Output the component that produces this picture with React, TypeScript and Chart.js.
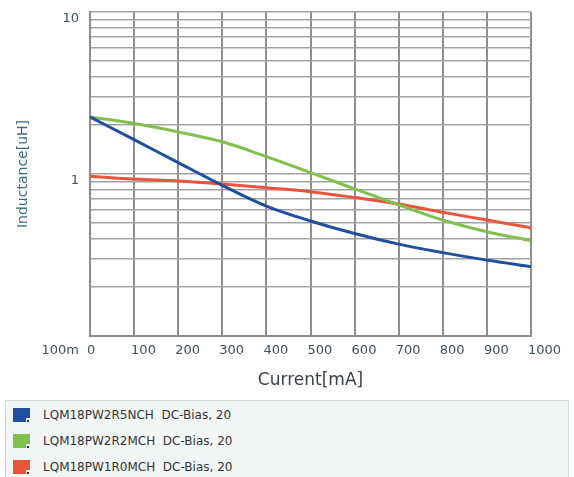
import React, { useEffect, useRef } from "react";
import { Chart, registerables } from "chart.js";

Chart.register(...registerables);

const currents = [0, 100, 200, 300, 400, 500, 600, 700, 800, 900, 1000];
const blueValues = [2.25, 1.63, 1.175, 0.851, 0.634, 0.513, 0.429, 0.369, 0.327, 0.294, 0.268];
const greenValues = [2.25, 2.05, 1.82, 1.58, 1.28, 1.02, 0.81, 0.645, 0.52, 0.44, 0.388];
const redValues = [0.97, 0.93, 0.905, 0.867, 0.823, 0.778, 0.715, 0.653, 0.58, 0.52, 0.466];

const seriesNames = [
  "LQM18PW2R5NCH  DC-Bias, 20",
  "LQM18PW2R2MCH  DC-Bias, 20",
  "LQM18PW1R0MCH  DC-Bias, 20",
];
const seriesColors = ["#1f4f9f", "#80c04c", "#e9553b"];
const seriesValues = [blueValues, greenValues, redValues];

const yTickValues = [
  0.1, 0.2, 0.3, 0.4, 0.5, 0.6, 0.7, 0.8, 0.9,
  1, 2, 3, 4, 5, 6, 7, 8, 9, 10,
];
const yTickLabels: Record<string, string | string[]> = {
  "0.1": ["", "100m"],
  "1": "1",
  "10": "10",
};

const W = 574;
const H = 398;

export default function App() {
  const ref = useRef<HTMLCanvasElement | null>(null);

  useEffect(() => {
    if (!ref.current) return;
    const chart = new Chart(ref.current, {
      type: "line",
      data: {
        datasets: seriesValues.map((vals, i) => ({
          label: seriesNames[i],
          data: currents.map((c, j) => ({ x: c, y: vals[j] })),
          borderColor: seriesColors[i],
          backgroundColor: seriesColors[i],
          borderWidth: 3,
          pointRadius: 0,
          cubicInterpolationMode: "monotone" as const,
          fill: false,
        })),
      },
      options: {
        responsive: false,
        animation: false,
        layout: { padding: { top: 12, right: 43, left: 0, bottom: 0 } },
        plugins: {
          legend: { display: false },
          tooltip: { enabled: false },
        },
        scales: {
          x: {
            type: "linear",
            min: 0,
            max: 1000,
            afterFit: (s: any) => {
              s.height = 62;
              s.paddingLeft = 0;
              s.paddingRight = 0;
            },
            ticks: {
              stepSize: 100,
              autoSkip: false,
              maxRotation: 0,
              padding: 7,
              align: "start",
              labelOffset: -3,
              color: "#3e4f58",
              font: { family: "DejaVu Sans", size: 13 },
              callback: (v: any) => String(v),
            },
            grid: { color: "#8e8e8e", lineWidth: 2, drawTicks: false },
            border: { display: true, color: "#8e8e8e", width: 2 },
            title: {
              display: true,
              text: "Current[mA]",
              color: "#3a3f44",
              font: { family: "DejaVu Sans", size: 17 },
              padding: { top: 4, bottom: 7 },
            },
          },
          y: {
            type: "logarithmic",
            min: 0.1,
            max: 10,
            afterFit: (s: any) => {
              s.width = 90;
              s.paddingTop = 0;
              s.paddingBottom = 0;
            },
            afterBuildTicks: (s: any) => {
              s.ticks = yTickValues.map((v) => ({ value: v }));
            },
            ticks: {
              autoSkip: false,
              padding: 11,
              labelOffset: 7,
              color: "#3e4f58",
              font: { family: "DejaVu Sans", size: 13 },
              callback: (v: any) => {
                const key = String(Number(v));
                return yTickLabels[key] !== undefined ? yTickLabels[key] : "";
              },
            },
            grid: { color: "#a2a2a2", lineWidth: 1.5, drawTicks: false },
            border: { display: true, color: "#8e8e8e", width: 2 },
            title: {
              display: true,
              text: "Inductance[uH]",
              color: "#3c6a78",
              font: { family: "DejaVu Sans", size: 14 },
              padding: { top: 15, bottom: 4 },
            },
          },
        },
      },
    });
    return () => chart.destroy();
  }, []);

  return (
    <div
      style={{
        position: "absolute",
        left: 0,
        top: 0,
        width: W,
        height: 477,
        background: "#ffffff",
        overflow: "hidden",
      }}
    >
      <canvas ref={ref} width={W} height={H} style={{ display: "block" }} />
      <div
        style={{
          position: "absolute",
          left: 5,
          top: 400,
          width: 564,
          height: 90,
          background: "#f3f6f6",
          border: "1px solid #d6dada",
          boxSizing: "border-box",
        }}
      >
        {seriesNames.map((name, i) => (
          <div
            key={name}
            style={{
              position: "absolute",
              left: 7,
              top: 6 + i * 26,
              height: 16,
              display: "flex",
              alignItems: "center",
            }}
          >
            <div
              style={{
                position: "relative",
                width: 17,
                height: 14,
                background: seriesColors[i],
                marginRight: 13,
              }}
            >
              <div
                style={{
                  position: "absolute",
                  right: 0,
                  bottom: 0,
                  width: 4,
                  height: 4,
                  background: "#f3f6f6",
                }}
              />
              <div
                style={{
                  position: "absolute",
                  right: 1,
                  bottom: 0,
                  width: 2,
                  height: 2,
                  background: "#333",
                }}
              />
            </div>
            <span
              style={{
                fontFamily: "DejaVu Sans",
                fontSize: 12,
                color: "#333",
                whiteSpace: "pre",
              }}
            >
              {name}
            </span>
          </div>
        ))}
      </div>
    </div>
  );
}
